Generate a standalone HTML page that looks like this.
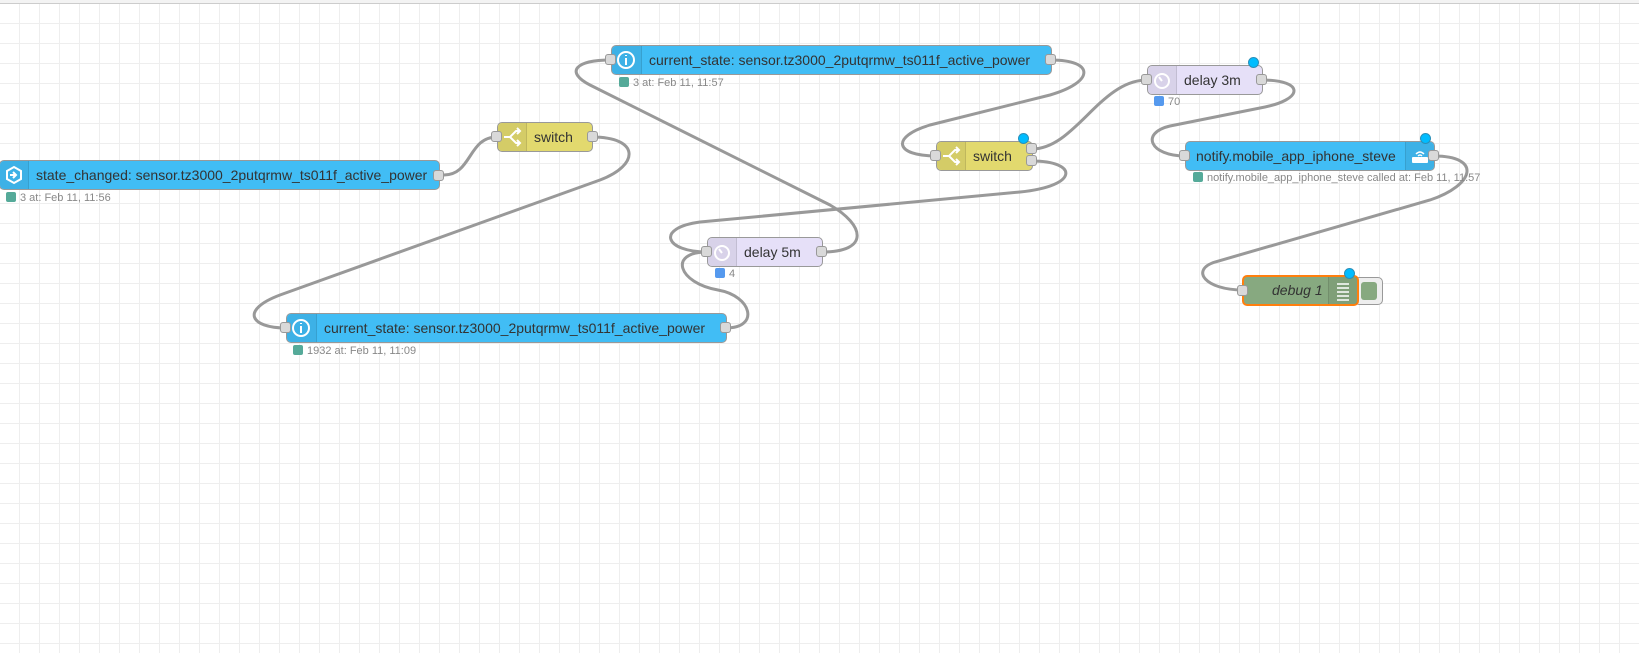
<!DOCTYPE html>
<html><head><meta charset="utf-8"><style>
body{margin:0;width:1639px;height:653px;overflow:hidden;font-family:"Liberation Sans",Arial,sans-serif;}
#c{position:absolute;left:0;top:0;width:1639px;height:653px;background-color:#fff;
background-image:linear-gradient(to right,#eee 1px,transparent 1px),linear-gradient(to bottom,#eee 1px,transparent 1px);
background-size:20px 20px;background-position:19px 3px;}
#hdr{position:absolute;left:0;top:0;width:1639px;height:3px;background:#f3f3f3;border-bottom:1px solid #ccc;}
.n{position:absolute;height:28px;border:1px solid #999;border-radius:5px;box-sizing:content-box;font-size:14px;color:#333;line-height:28px;white-space:nowrap;}
.ic{position:absolute;top:0;width:28px;height:28px;background:rgba(0,0,0,0.06);}
.l{position:absolute;top:0;}
.p{position:absolute;width:9px;height:9px;background:#d9d9d9;border:1px solid #999;border-radius:3px;}
.s{position:absolute;font-size:11px;color:#888;line-height:12px;white-space:nowrap;}
.s i{display:inline-block;width:10px;height:10px;border-radius:2px;vertical-align:-1px;margin-right:4px;}
.d{position:absolute;width:9px;height:9px;border-radius:50%;background:#00bcff;border:1px solid #2a8fb8;}
.blue{background:#41bdf5;}
.yel{background:#e2d96e;}
.del{background:#e6e0f8;}
</style></head><body>
<div id="c"></div>
<div id="hdr"></div>
<svg width="1639" height="653" style="position:absolute;left:0;top:0">
<g fill="none" stroke="#999" stroke-width="3">
<path d="M444,175 C472,175 468,137 497,137"/>
<path d="M592,137 C640,137 640,165 600,180 L280,295 C240,310 250,328 286,328"/>
<path d="M726,328 C760,328 752,296 718,290 C678,283 668,252 707,252"/>
<path d="M822,252 C870,252 865,225 830,205 L590,85 C565,72 575,60 611,60"/>
<path d="M1051,60 C1095,60 1095,82 1050,95 L930,125 C890,137 895,156 936,156"/>
<path d="M1032,149 C1075,149 1100,80 1147,80"/>
<path d="M1032,161 C1078,161 1080,186 1020,192 L700,222 C655,228 665,252 707,252"/>
<path d="M1262,80 C1305,80 1305,100 1260,108 L1170,126 C1140,133 1150,156 1185,156"/>
<path d="M1434,156 C1482,156 1475,185 1430,200 L1215,262 C1190,270 1205,290 1243,290"/>
</g></svg>

<!-- state_changed -->
<div class="n blue" style="left:-1px;top:160px;width:439px;">
<div class="ic" style="left:0;border-radius:5px 0 0 5px;border-right:1px solid rgba(0,0,0,0.1)"><svg width="28" height="28"><polygon points="14,6 21,10 21,18 14,22 7,18 7,10" fill="none" stroke="#fff" stroke-width="2"/><path d="M10,14 H16 M13,11 L16,14 L13,17" stroke="#fff" stroke-width="2" fill="none"/></svg></div>
<div class="l" style="left:36px">state_changed: sensor.tz3000_2putqrmw_ts011f_active_power</div></div>
<div class="p" style="left:433px;top:170px"></div>
<div class="s" style="left:6px;top:192px"><i style="background:#5a9"></i>3 at: Feb 11, 11:56</div>

<!-- switch1 -->
<div class="n yel" style="left:497px;top:122px;width:94px;">
<div class="ic" style="left:0;border-radius:5px 0 0 5px;border-right:1px solid rgba(0,0,0,0.1)"><svg width="28" height="28"><path d="M6,14 H12 L18,8 H22 M12,14 L18,20 H22 M19,5 L22,8 L19,11 M19,17 L22,20 L19,23" stroke="#fff" stroke-width="2" fill="none"/></svg></div>
<div class="l" style="left:36px">switch</div></div>
<div class="p" style="left:491px;top:131px"></div>
<div class="p" style="left:587px;top:131px"></div>

<!-- current_state top -->
<div class="n blue" style="left:611px;top:45px;width:439px;">
<div class="ic" style="left:0;width:29px;border-radius:5px 0 0 5px;border-right:1px solid rgba(0,0,0,0.1)"><svg width="28" height="28"><circle cx="14" cy="14" r="8" fill="none" stroke="#fff" stroke-width="2"/><path d="M14,12 V19 M14,9 V10" stroke="#fff" stroke-width="2"/></svg></div>
<div class="l" style="left:37px">current_state: sensor.tz3000_2putqrmw_ts011f_active_power</div></div>
<div class="p" style="left:605px;top:54px"></div>
<div class="p" style="left:1045px;top:54px"></div>
<div class="s" style="left:619px;top:77px"><i style="background:#5a9"></i>3 at: Feb 11, 11:57</div>

<!-- switch2 -->
<div class="n yel" style="left:936px;top:141px;width:95px;">
<div class="ic" style="left:0;border-radius:5px 0 0 5px;border-right:1px solid rgba(0,0,0,0.1)"><svg width="28" height="28"><path d="M6,14 H12 L18,8 H22 M12,14 L18,20 H22 M19,5 L22,8 L19,11 M19,17 L22,20 L19,23" stroke="#fff" stroke-width="2" fill="none"/></svg></div>
<div class="l" style="left:36px">switch</div></div>
<div class="p" style="left:930px;top:150px"></div>
<div class="p" style="left:1026px;top:143px"></div>
<div class="p" style="left:1026px;top:155px"></div>
<div class="d" style="left:1018px;top:133px"></div>

<!-- delay 3m -->
<div class="n del" style="left:1147px;top:65px;width:114px;">
<div class="ic" style="left:0;border-radius:5px 0 0 5px;border-right:1px solid rgba(0,0,0,0.1)"><svg width="28" height="28"><circle cx="14" cy="15" r="7" fill="none" stroke="#fff" stroke-width="2"/><path d="M14,15 L11,11" stroke="#fff" stroke-width="2"/></svg></div>
<div class="l" style="left:36px">delay 3m</div></div>
<div class="p" style="left:1141px;top:74px"></div>
<div class="p" style="left:1256px;top:74px"></div>
<div class="d" style="left:1248px;top:57px"></div>
<div class="s" style="left:1154px;top:96px"><i style="background:#59e"></i>70</div>

<!-- notify -->
<div class="n blue" style="left:1185px;top:141px;width:248px;">
<div class="ic" style="right:0;border-radius:0 5px 5px 0;border-left:1px solid rgba(0,0,0,0.1)"><svg width="28" height="28"><rect x="6" y="15" width="16" height="6" rx="1" fill="#fff"/><path d="M10,12 Q14,8 18,12 M12,14 Q14,12 16,14" stroke="#fff" stroke-width="1.5" fill="none"/></svg></div>
<div class="l" style="left:10px">notify.mobile_app_iphone_steve</div></div>
<div class="p" style="left:1179px;top:150px"></div>
<div class="p" style="left:1428px;top:150px"></div>
<div class="d" style="left:1420px;top:133px"></div>
<div class="s" style="left:1193px;top:172px"><i style="background:#5a9"></i>notify.mobile_app_iphone_steve called at: Feb 11, 11:57</div>

<!-- delay 5m -->
<div class="n del" style="left:707px;top:237px;width:114px;">
<div class="ic" style="left:0;border-radius:5px 0 0 5px;border-right:1px solid rgba(0,0,0,0.1)"><svg width="28" height="28"><circle cx="14" cy="15" r="7" fill="none" stroke="#fff" stroke-width="2"/><path d="M14,15 L11,11" stroke="#fff" stroke-width="2"/></svg></div>
<div class="l" style="left:36px">delay 5m</div></div>
<div class="p" style="left:701px;top:246px"></div>
<div class="p" style="left:816px;top:246px"></div>
<div class="s" style="left:715px;top:268px"><i style="background:#59e"></i>4</div>

<!-- current_state bottom -->
<div class="n blue" style="left:286px;top:313px;width:439px;">
<div class="ic" style="left:0;width:29px;border-radius:5px 0 0 5px;border-right:1px solid rgba(0,0,0,0.1)"><svg width="28" height="28"><circle cx="14" cy="14" r="8" fill="none" stroke="#fff" stroke-width="2"/><path d="M14,12 V19 M14,9 V10" stroke="#fff" stroke-width="2"/></svg></div>
<div class="l" style="left:37px">current_state: sensor.tz3000_2putqrmw_ts011f_active_power</div></div>
<div class="p" style="left:280px;top:322px"></div>
<div class="p" style="left:720px;top:322px"></div>
<div class="s" style="left:293px;top:345px"><i style="background:#5a9"></i>1932 at: Feb 11, 11:09</div>

<!-- debug -->
<div style="position:absolute;left:1354px;top:277px;width:27px;height:26px;border:1px solid #999;border-radius:5px;background:#eee"><div style="position:absolute;left:6px;top:4px;width:16px;height:18px;background:#87a980;border-radius:3px"></div></div>
<div class="n" style="left:1242px;top:275px;width:113px;height:27px;background:#87a980;border:2px solid #ff7f0e;line-height:27px">
<div class="ic" style="right:0;height:27px;border-left:1px solid rgba(0,0,0,0.1)"><svg width="28" height="27"><path d="M8,7 H20 M8,11 H20 M8,15 H20 M8,19 H20 M8,23 H20" stroke="#fff" stroke-width="1.5"/></svg></div>
<div class="l" style="left:28px;font-style:italic">debug 1</div></div>
<div class="p" style="left:1237px;top:285px"></div>
<div class="d" style="left:1344px;top:268px"></div>
</body></html>
